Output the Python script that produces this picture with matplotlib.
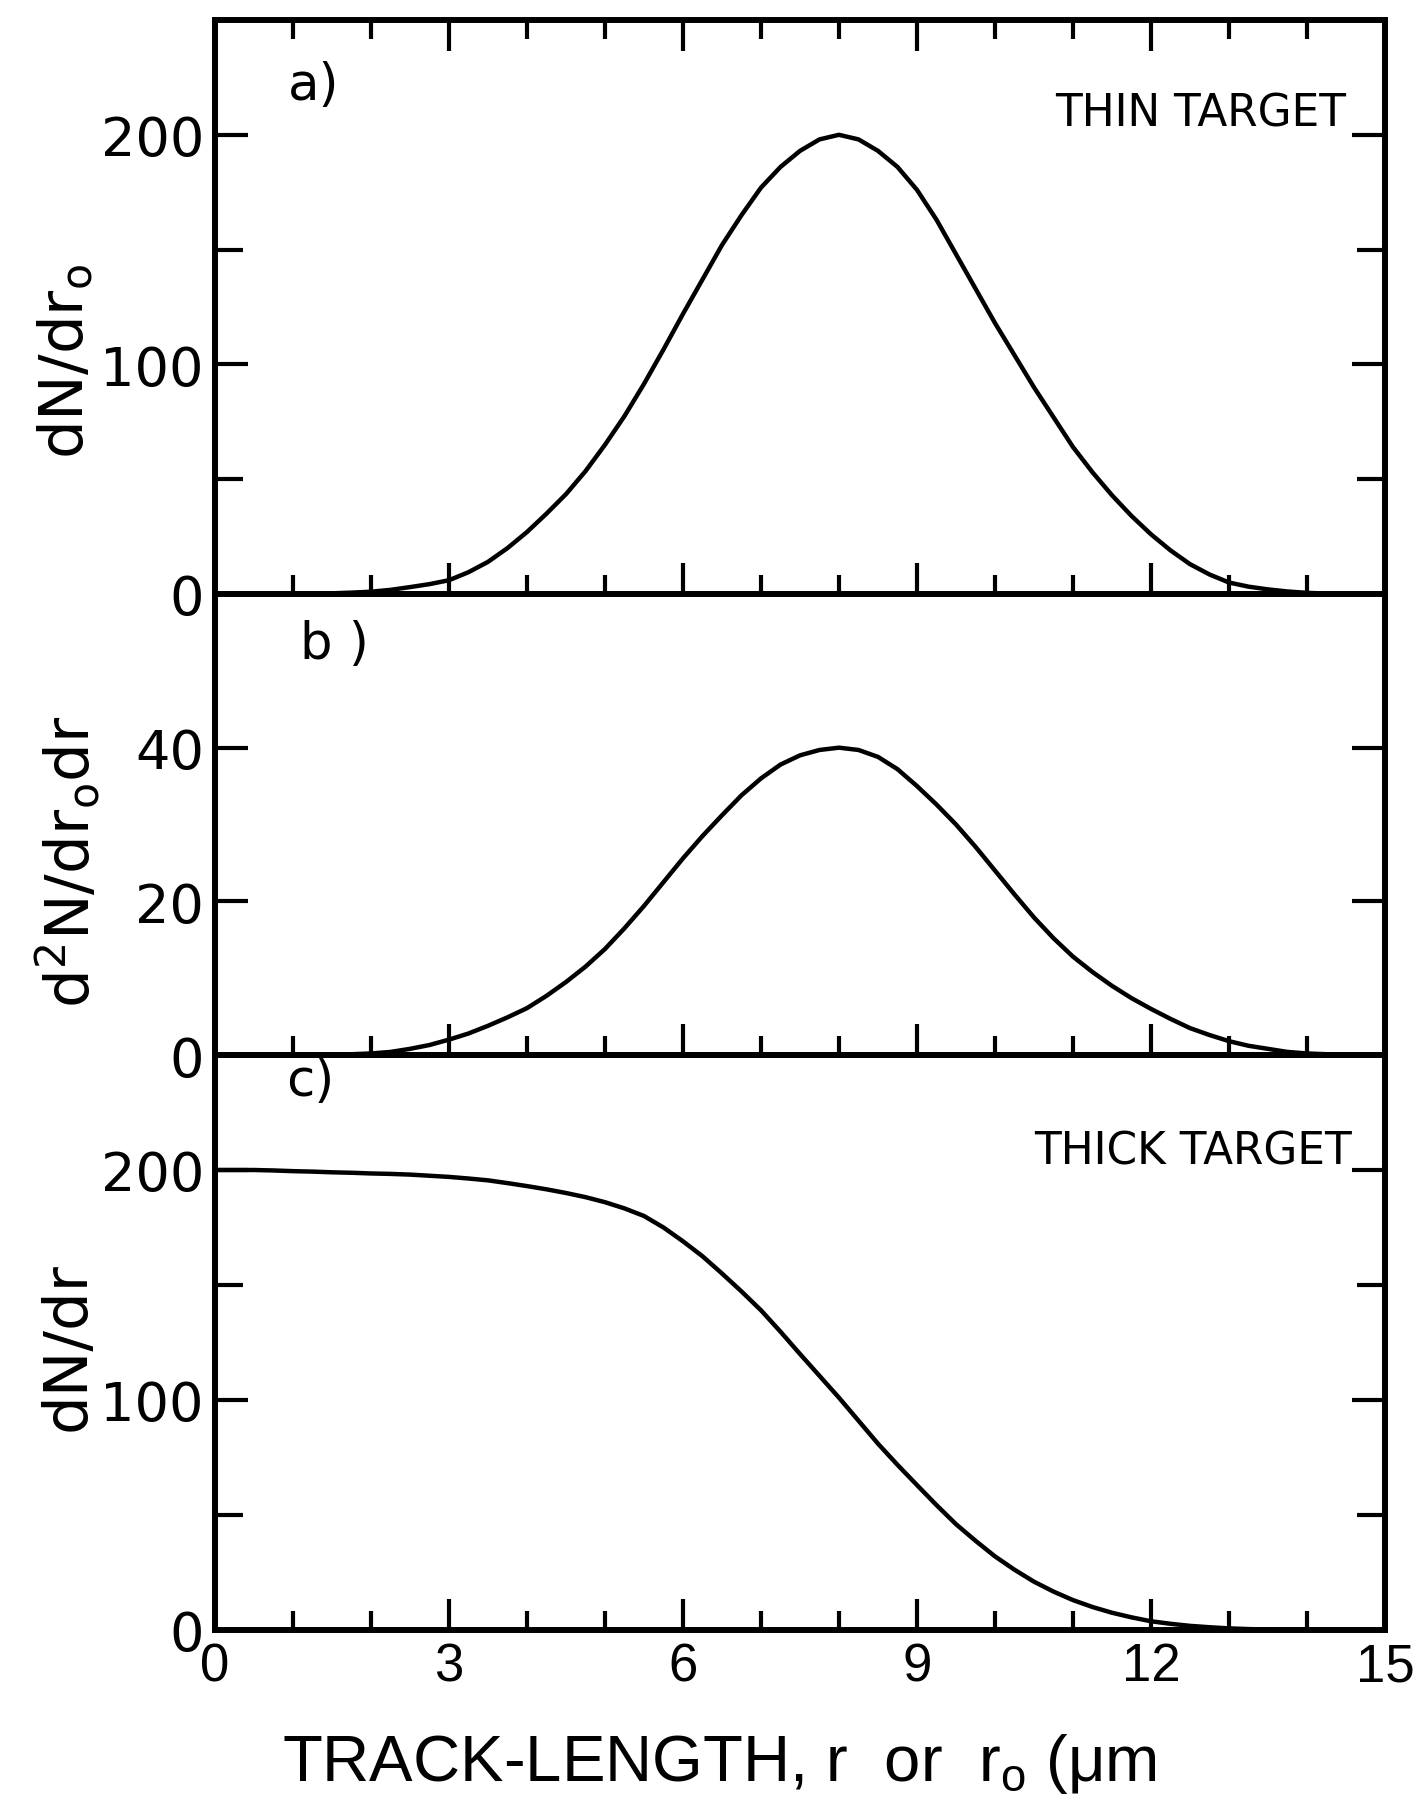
import matplotlib
matplotlib.use("Agg")
import matplotlib.pyplot as plt
from matplotlib.ticker import MultipleLocator, FixedLocator

plt.rcParams['mathtext.default'] = 'regular'

# ---------------- data ----------------
track_length = [0, 0.25, 0.5, 0.75, 1, 1.25, 1.5, 1.75, 2, 2.25, 2.5, 2.75, 3, 3.25, 3.5, 3.75,
                4, 4.25, 4.5, 4.75, 5, 5.25, 5.5, 5.75, 6, 6.25, 6.5, 6.75, 7, 7.25, 7.5, 7.75,
                8, 8.25, 8.5, 8.75, 9, 9.25, 9.5, 9.75, 10, 10.25, 10.5, 10.75, 11, 11.25, 11.5, 11.75,
                12, 12.25, 12.5, 12.75, 13, 13.25, 13.5, 13.75, 14, 14.25, 14.5, 14.75, 15]

thin_dN_dr0 = [0, 0, 0, 0, 0, 0, 0.3, 0.6, 1, 1.8, 3, 4.3, 6, 9.5, 14, 20,
               27, 35, 43.5, 53.5, 65, 77.5, 91.5, 106.5, 122, 137, 152, 165, 177, 186, 193, 198,
               200, 198, 193, 186, 176, 163, 148, 133, 118, 104, 90, 77, 64, 53, 43, 34,
               26, 19, 13, 8.5, 5, 3.2, 2, 1.1, 0.5, 0.2, 0, 0, 0]

d2N_dr0dr = [0, 0, 0, 0, 0, 0, 0, 0.1, 0.2, 0.4, 0.8, 1.3, 2.0, 2.8, 3.8, 4.9,
             6.1, 7.7, 9.5, 11.5, 13.8, 16.5, 19.4, 22.5, 25.6, 28.5, 31.2, 33.8, 36, 37.8, 39, 39.7,
             40, 39.7, 38.8, 37.2, 35, 32.6, 30, 27.1, 24, 20.9, 17.9, 15.2, 12.8, 10.8, 9, 7.4,
             6, 4.7, 3.5, 2.6, 1.8, 1.2, 0.8, 0.4, 0.2, 0.1, 0, 0, 0]

thick_dN_dr = [200, 200, 200, 199.8, 199.5, 199.3, 199, 198.8, 198.5, 198.3, 198, 197.5, 197, 196.3, 195.5, 194.3,
               193, 191.6, 190, 188.2, 186, 183.3, 180, 175, 169, 162.5, 155, 147.2, 139, 129.7, 120, 110.5,
               101, 91, 81, 71.8, 63, 54.3, 46, 38.8, 32, 26.2, 21, 16.7, 13, 10, 7.5, 5.5,
               3.8, 2.7, 1.8, 1.2, 0.7, 0.4, 0.2, 0.1, 0, 0, 0, 0, 0]

x_ticks = [0, 3, 6, 9, 12, 15]
x_tick_labels = ['0', '3', '6', '9', '12', '15']
ya_ticks = [0, 100, 200]
yb_ticks = [0, 20, 40]
yc_ticks = [0, 100, 200]

# ---------------- fonts ----------------
narrow = ['Liberation Sans', 'DejaVu Sans']
round_font = ['DejaVu Sans']

W_PX, H_PX = 1415, 1806
fig = plt.figure(figsize=(W_PX / 100, H_PX / 100), dpi=100)

L = 215 / W_PX
Wd = 1170 / W_PX
axa = fig.add_axes([L, 1 - 595 / H_PX, Wd, 574 / H_PX])
axb = fig.add_axes([L, 1 - 1056 / H_PX, Wd, 461 / H_PX])
axc = fig.add_axes([L, 1 - 1631 / H_PX, Wd, 575 / H_PX])

LW_CURVE = 3.2
LW_SPINE = 4.3

def style(ax, ylim, ymajor, yminor, top=False, xlabels=False):
    ax.set_xlim(0, 15)
    ax.set_ylim(*ylim)
    for s in ax.spines.values():
        s.set_linewidth(LW_SPINE)
    ax.xaxis.set_major_locator(FixedLocator(x_ticks))
    ax.xaxis.set_minor_locator(MultipleLocator(1))
    ax.yaxis.set_major_locator(FixedLocator(ymajor))
    ax.yaxis.set_minor_locator(FixedLocator(yminor))
    ax.tick_params(axis='x', which='major', direction='in', length=22, width=3,
                   top=top, bottom=True, pad=8)
    ax.tick_params(axis='x', which='minor', direction='in', length=14, width=3,
                   top=top, bottom=True)
    ax.tick_params(axis='y', which='major', direction='in', length=24, width=3,
                   left=True, right=True, pad=8)
    ax.tick_params(axis='y', which='minor', direction='in', length=20, width=3,
                   left=True, right=True)
    if xlabels:
        ax.set_xticks(x_ticks)
        ax.set_xticklabels(x_tick_labels, family=narrow, fontsize=38)
    else:
        ax.set_xticklabels([])
    ax.set_yticks(ymajor)
    ax.set_yticklabels([str(v) for v in ymajor], family=round_font, fontsize=39)

axa.plot(track_length, thin_dN_dr0, color='black', lw=LW_CURVE, solid_capstyle='round')
style(axa, (0, 250), ya_ticks, [50, 150], top=True)

axb.plot(track_length, d2N_dr0dr, color='black', lw=LW_CURVE, solid_capstyle='round')
style(axb, (0, 60), yb_ticks, [])

axc.plot(track_length, thick_dN_dr, color='black', lw=LW_CURVE, solid_capstyle='round')
style(axc, (0, 250), yc_ticks, [50, 150], xlabels=True)

# panel letters and annotations (figure pixel positions)
def ftext(x, y, s, **kw):
    fig.text(x / W_PX, 1 - y / H_PX, s, **kw)

ftext(288, 86, 'a)', ha='left', va='center', fontsize=37, family=round_font)
ftext(300, 645, 'b )', ha='left', va='center', fontsize=37, family=round_font)
ftext(286, 1082, 'c)', ha='left', va='center', fontsize=37, family=round_font)

ftext(1346, 114, 'THIN TARGET', ha='right', va='center', fontsize=31.5, family=round_font)
ftext(1352, 1152, 'THICK TARGET', ha='right', va='center', fontsize=31.5, family=round_font)

# y-axis labels
ftext(66, 361, r'dN/dr$_o$', ha='center', va='center', rotation=90, fontsize=44, family=round_font)
ftext(68, 862, r'd$^2$N/dr$_o$dr', ha='center', va='center', rotation=90, fontsize=44, family=round_font)
ftext(68, 1347, 'dN/dr', ha='center', va='center', rotation=90, fontsize=44, family=round_font)

# x-axis label
ftext(282, 1764, r'TRACK-LENGTH, r  or  r$_o$ (μm', ha='left', va='center', fontsize=47, family=narrow)

fig.savefig('out.png', dpi=100, facecolor='white')
